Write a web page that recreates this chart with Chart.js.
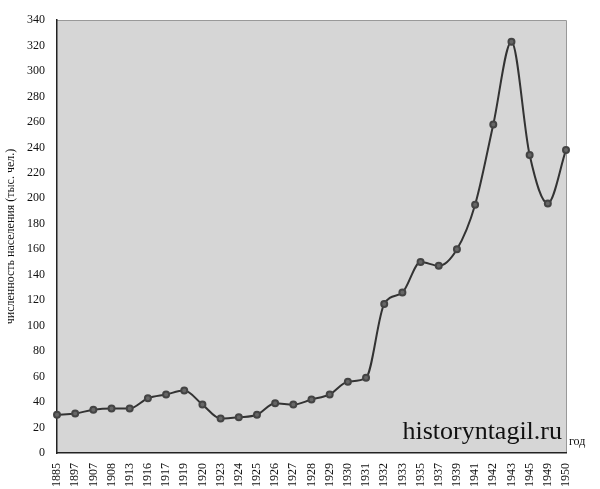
<!DOCTYPE html>
<html><head><meta charset="utf-8">
<script src="https://cdn.jsdelivr.net/npm/chart.js@4"></script>
<style>html,body{margin:0;background:#fff}#w{width:600px;height:489px}</style>
</head><body><div id="w"><canvas id="c"></canvas></div>
<script>
const years = ["1885","1897","1907","1908","1913","1916","1917","1919","1920","1923","1924","1925","1926","1927","1928","1929","1930","1931","1932","1933","1935","1937","1939","1941","1942","1943","1945","1949","1950"];
const population = [30,31,34,35,35,43,46,49,38,27,28,30,39,38,42,46,56,59,117,126,150,147,160,195,258,323,234,196,238];
const yTitle = "численность населения (тыс. чел.)";
const bgPlugin = {
  id:'bg',
  beforeDraw(ch){const a=ch.chartArea,c=ch.ctx;c.save();c.fillStyle='#d6d6d6';c.fillRect(a.left,a.top,a.right-a.left,a.bottom-a.top);
    c.strokeStyle='#999';c.lineWidth=1;c.beginPath();c.moveTo(a.left,a.top+0.5);c.lineTo(a.right+0.5,a.top+0.5);c.lineTo(a.right+0.5,a.bottom);c.stroke();c.restore();},
  afterDraw(ch){const a=ch.chartArea,c=ch.ctx;c.save();c.fillStyle='#111';
    c.font='26px "Liberation Serif"';c.textAlign='right';c.textBaseline='alphabetic';c.fillText('historyntagil.ru',a.right-4,a.bottom-14);
    c.font='12px "Liberation Serif"';c.textAlign='left';c.fillText('год',a.right+3,a.bottom-8);
    c.restore();}
};
new Chart(document.getElementById('c'),{
  type:'line',
  data:{labels:years,datasets:[{data:population,borderColor:'#333',borderWidth:2,pointRadius:3,pointBackgroundColor:'#666',pointBorderColor:'#444',tension:0.4,cubicInterpolationMode:'monotone'}]},
  options:{responsive:true,maintainAspectRatio:false,animation:false,
    layout:{padding:{left:4,right:34,top:20,bottom:0}},
    plugins:{legend:{display:false},tooltip:{enabled:false}},
    scales:{
      x:{offset:false,grid:{display:false},border:{color:'#222',width:1.5},
        ticks:{color:'#111',font:{family:'Liberation Serif',size:12},minRotation:90,maxRotation:90,autoSkip:false,padding:2}},
      y:{min:0,max:340,grid:{display:false},border:{color:'#222',width:1.5},
        afterFit(s){s.width=53;},
        ticks:{stepSize:20,color:'#111',font:{family:'Liberation Serif',size:12},padding:4},
        title:{display:true,text:yTitle,color:'#111',font:{family:'Liberation Serif',size:12},padding:0}}
    }},
  plugins:[bgPlugin]
});
</script></body></html>
